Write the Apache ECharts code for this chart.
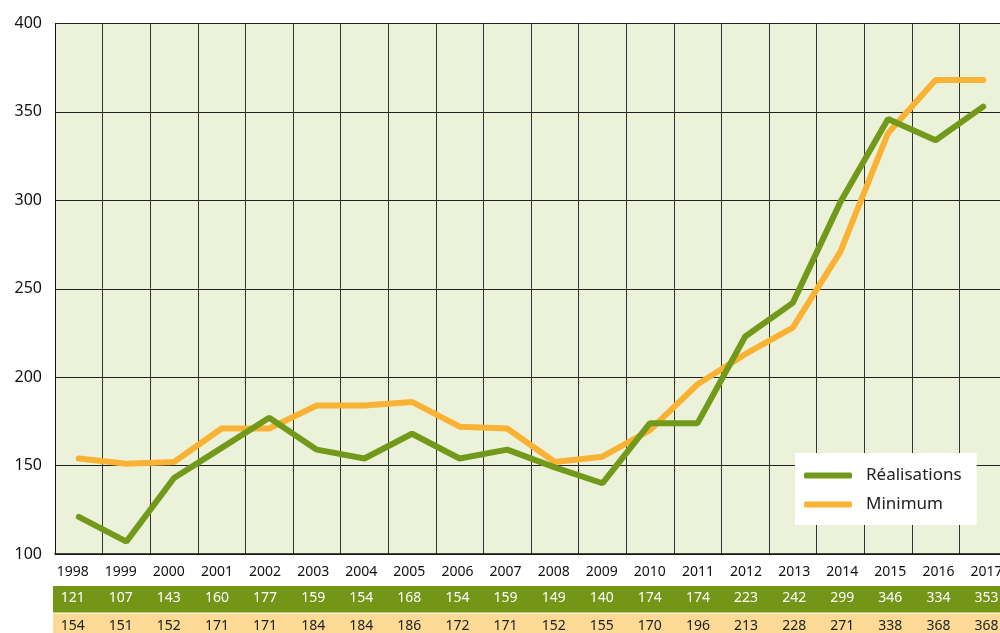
<!DOCTYPE html>
<html>
<head>
<meta charset="utf-8">
<script src="https://cdn.jsdelivr.net/npm/echarts@6/dist/echarts.min.js"></script>
<style>
  html, body { margin: 0; padding: 0; background: #fff; overflow: hidden; }
  #chart { width: 1012px; height: 633px; }
</style>
</head>
<body>
<div id="chart"></div>
<script>
const years = ['1998', '1999', '2000', '2001', '2002', '2003', '2004', '2005', '2006', '2007',
  '2008', '2009', '2010', '2011', '2012', '2013', '2014', '2015', '2016', '2017']
const realisations = [121, 107, 143, 160, 177, 159, 154, 168, 154, 159,
  149, 140, 174, 174, 223, 242, 299, 346, 334, 353]
const minimum = [154, 151, 152, 171, 171, 184, 184, 186, 172, 171,
  152, 155, 170, 196, 213, 228, 271, 338, 368, 368]

const GREEN = '#72991a'
const ORANGE = '#f9b233'
const FONT = '"Noto Sans", sans-serif'

const chart = echarts.init(document.getElementById('chart'))

// axe des années + tableau de valeurs sous le graphique
const tableAxis = (formatter, margin, color) => ({
  type: 'category',
  gridIndex: 1,
  data: years,
  position: 'bottom',
  axisLine: { show: false },
  axisTick: { show: false },
  splitLine: { show: false },
  axisLabel: {
    interval: 0,
    margin: margin,
    verticalAlign: 'middle',
    color: color,
    fontFamily: FONT,
    fontSize: 14,
    formatter: formatter
  }
})

const option = {
  backgroundColor: '#fff',
  animation: false,
  graphic: [
    { type: 'rect', shape: { x: 53, y: 586, width: 960, height: 26.5 }, style: { fill: '#739617' }, z: -1 },
    { type: 'rect', shape: { x: 53, y: 613.5, width: 960, height: 22 }, style: { fill: '#fdda95' }, z: -1 }
  ],
  grid: [
    { left: 55, top: 23.5, width: 952, height: 530.5, show: true, backgroundColor: '#ecf2da', borderWidth: 0 },
    { left: 48.6, top: 556, width: 962, height: 10, show: false }
  ],
  legend: {
    data: ['Réalisations', 'Minimum'],
    orient: 'vertical',
    left: 795,
    top: 453,
    backgroundColor: '#fff',
    padding: [14, 15, 12, 9],
    itemGap: 12,
    itemWidth: 48,
    itemHeight: 6,
    icon: 'roundRect',
    textStyle: { fontFamily: FONT, fontSize: 17, color: '#222', padding: [0, 0, 0, 9] }
  },
  xAxis: [
    {
      type: 'category',
      gridIndex: 0,
      data: years,
      boundaryGap: true,
      axisLine: { lineStyle: { color: '#111', width: 1.5 } },
      axisTick: { show: false },
      axisLabel: { show: false },
      splitLine: { show: true, interval: 0, lineStyle: { color: '#333', width: 1 } }
    },
    tableAxis(v => v, 7, '#111'),
    tableAxis((v, i) => realisations[i], 33, '#fff'),
    tableAxis((v, i) => minimum[i], 61, '#222')
  ],
  yAxis: [
    {
      type: 'value',
      gridIndex: 0,
      min: 100,
      max: 400,
      interval: 50,
      axisLine: { show: true, lineStyle: { color: '#111', width: 1 } },
      axisTick: { show: false },
      axisLabel: { color: '#111', fontFamily: FONT, fontSize: 16, margin: 13 },
      splitLine: { lineStyle: { color: '#222', width: 1 } }
    },
    { type: 'value', gridIndex: 1, show: false }
  ],
  series: [
    {
      name: 'Réalisations',
      type: 'line',
      xAxisIndex: 0,
      yAxisIndex: 0,
      data: realisations,
      showSymbol: false,
      itemStyle: { color: GREEN },
      lineStyle: { color: GREEN, width: 6, cap: 'round' },
      z: 3
    },
    {
      name: 'Minimum',
      type: 'line',
      xAxisIndex: 0,
      yAxisIndex: 0,
      data: minimum,
      showSymbol: false,
      itemStyle: { color: ORANGE },
      lineStyle: { color: ORANGE, width: 6, cap: 'round' },
      z: 2
    }
  ]
}

chart.setOption(option)
</script>
</body>
</html>
